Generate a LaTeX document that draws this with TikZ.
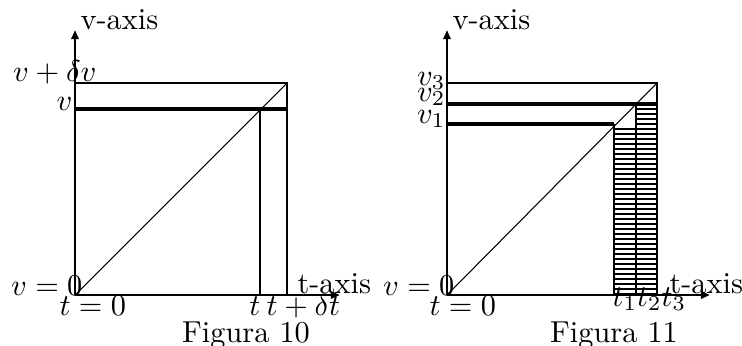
\documentclass[tikz,border=0pt]{standalone}
\usepackage{amsmath}
\usepackage{tikz}
\usetikzlibrary{arrows.meta, positioning}

\begin{document}
\begin{tikzpicture}[
  x=0.33pt, y=-0.33pt,
  font=\normalsize,
  axis/.style={
    line width=0.9pt,
    -{Triangle[length=3pt,width=2.4pt]}
  },
  box/.style={
    line width=0.95pt
  },
  level/.style={
    line width=1.25pt
  },
  diag/.style={
    line width=0.35pt
  },
  hatch/.style={
    line width=0.7pt
  },
  lbl/.style={
    inner sep=0pt
  }
]

\useasboundingbox (0,0) rectangle (742,345);

% -------------------------------------------------------------------
% Figura 10
% -------------------------------------------------------------------
\coordinate (oa) at (75,295);
\coordinate (va) at (75,30);
\coordinate (ta) at (340,295);
\coordinate (topa) at (75,83);
\coordinate (cornera) at (287,83);
\coordinate (foota) at (287,295);
\coordinate (lva) at (75,109);
\coordinate (pa) at (260,109);
\coordinate (rva) at (287,109);
\coordinate (tta) at (260,295);

\draw[axis] (oa) -- (va);
\draw[axis] (oa) -- (ta);
\draw[box] (topa) -- (cornera) -- (foota);
\draw[level] (lva) -- (rva);
\draw[box] (pa) -- (tta);
\draw[diag] (oa) -- (cornera);

\node[lbl, anchor=base west] (vaxa) at (80,29) {v-axis};
\node[lbl, anchor=base west] (taxa) at (297,293) {t-axis};
\node[lbl, anchor=base east] (vdva) at (97,81) {$v+\delta v$};
\node[lbl, anchor=base east] (vla) at (73,110) {$v$};
\node[lbl, anchor=base east] (v0a) at (83,295) {$v=0$};
\node[lbl, anchor=base west] (t0a) at (59,315) {$t=0$};
\node[lbl, anchor=base east] (tla) at (261,315) {$t$};
\node[lbl, anchor=base west] (tdta) at (266,315) {$t+\delta t$};
\node[lbl, anchor=base] (figa) at (246,342) {Figura 10};

% -------------------------------------------------------------------
% Figura 11
% -------------------------------------------------------------------
\coordinate (ob) at (447,295);
\coordinate (vb) at (447,30);
\coordinate (tb) at (710,295);
\coordinate (v3b) at (447,83);
\coordinate (v2b) at (447,104);
\coordinate (v1b) at (447,124);
\coordinate (c3) at (657,83);
\coordinate (c2) at (636,104);
\coordinate (c1) at (614,124);
\coordinate (r2) at (657,104);
\coordinate (f1) at (614,295);
\coordinate (f2) at (636,295);
\coordinate (f3) at (657,295);

% shading strip under the line
\foreach \k in {1,...,34}
  \draw[hatch] (614,124+5*\k) -- (636,124+5*\k);
\foreach \k in {1,...,38}
  \draw[hatch] (636,104+5*\k) -- (657,104+5*\k);

\draw[axis] (ob) -- (vb);
\draw[axis] (ob) -- (tb);
\draw[box] (v3b) -- (c3) -- (f3);
\draw[level] (v2b) -- (r2);
\draw[level] (v1b) -- (c1);
\draw[box] (c1) -- (f1);
\draw[box] (c2) -- (f2);
\draw[diag] (ob) -- (c3);

\node[lbl, anchor=base west] (vaxb) at (452,29) {v-axis};
\node[lbl, anchor=base west] (taxb) at (669,293) {t-axis};
\node[lbl, anchor=base east] (v3l) at (446,85) {$v_3$};
\node[lbl, anchor=base east] (v2l) at (446,101) {$v_2$};
\node[lbl, anchor=base east] (v1l) at (446,123) {$v_1$};
\node[lbl, anchor=base east] (v0b) at (455,295) {$v=0$};
\node[lbl, anchor=base west] (t0b) at (429,315) {$t=0$};
\node[lbl, anchor=base west] (t123) at (612,306) {$t_1t_2t_3$};
\node[lbl, anchor=base] (figb) at (614,342) {Figura 11};

\end{tikzpicture}
\end{document}
